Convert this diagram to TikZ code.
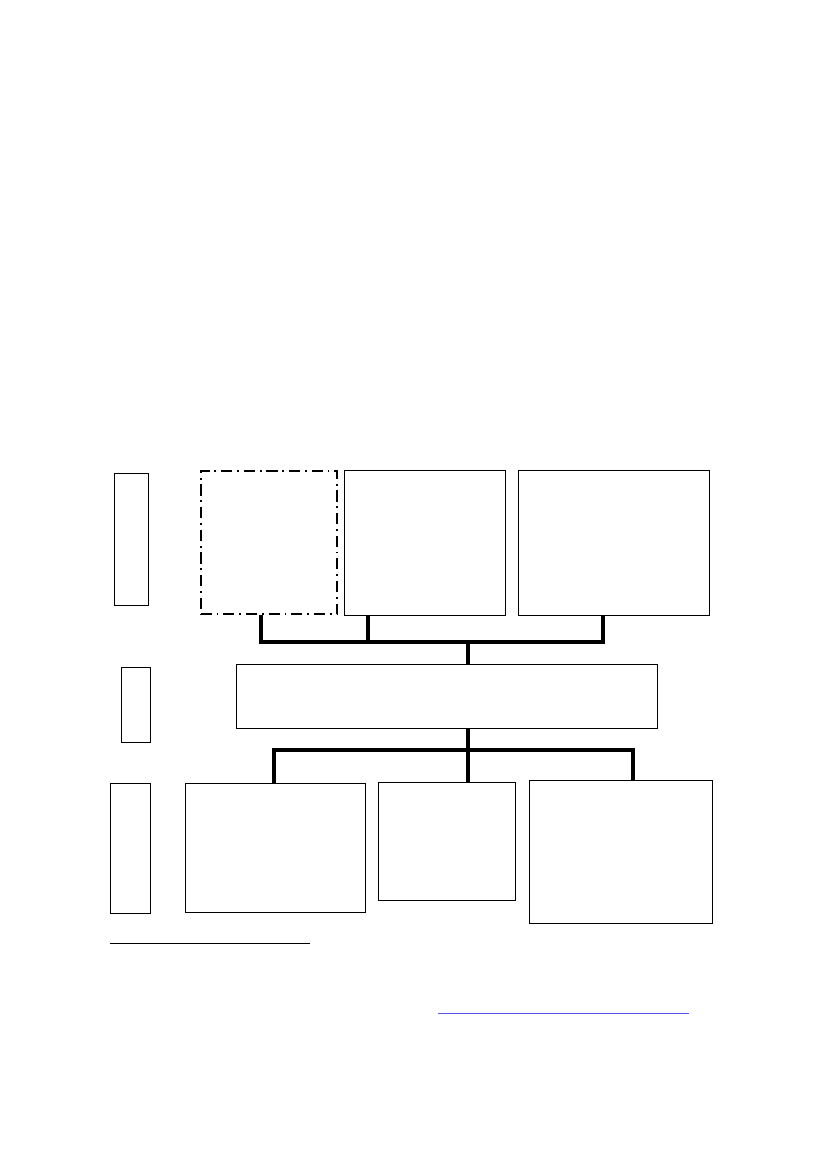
\documentclass[tikz,border=0pt]{standalone}
\usetikzlibrary{fit}
\definecolor{linkblue}{RGB}{85,85,230}
\begin{document}
\begin{tikzpicture}[x=0.7198pt,y=-0.7198pt,
  box/.style={draw=black,line width=0.7pt,inner sep=0pt,fill=white},
  dashbox/.style={draw=black,line width=1.5pt,inner sep=0pt,dash pattern=on 8pt off 3.5pt on 1.3pt off 3.5pt},
  conn/.style={draw=black,line width=2.6pt,line join=miter,line cap=butt},
  connshadow/.style={draw=black!20,line width=3pt,line join=miter}]
\useasboundingbox (0,0) rectangle (827,1169);
\fill[white] (0,0) rectangle (827,1169);
% top row
\node[box,fit={(114.3,473.3) (148.7,605.3)}] (s1) {};
\node[dashbox,fit={(200.7,470.7) (337.3,614)}] (dash) {};
\node[box,fit={(344.3,470.3) (505.3,615.3)}] (b2) {};
\node[box,fit={(518.3,470.3) (709.7,615.3)}] (b3) {};
% middle row
\node[box,fit={(121.3,667.3) (150.3,742.3)}] (s2) {};
\node[box,fit={(236.3,664.3) (657.3,728.3)}] (mid) {};
% bottom row
\node[box,fit={(110.3,783.3) (150.3,913.3)}] (s3) {};
\node[box,fit={(185.3,783.3) (365.7,912.3)}] (ba) {};
\node[box,fit={(378.3,782.3) (515.3,900.3)}] (bb) {};
\node[box,fit={(529.3,780.3) (712.7,923.3)}] (bc) {};
% bus coordinates
\coordinate (tl) at (261,642);
\coordinate (tm) at (367.7,642);
\coordinate (tr) at (603.3,642);
\coordinate (tc) at (467.7,642);
\coordinate (bl) at (274,750);
\coordinate (bm) at (467.7,750);
\coordinate (br) at (633.3,750);
% shadows
\begin{scope}[shift={(1.2,1.5)}]
\draw[connshadow] (dash.south -| tl) -- (tl) -- (tr) -- (b3.south -| tr);
\draw[connshadow] (ba.north -| bl) -- (bl) -- (br) -- (bc.north -| br);
\end{scope}
% connectors top
\draw[conn] (dash.south -| tl) -- (tl) -- (tr) -- (b3.south -| tr);
\draw[conn] (b2.south -| tm) -- (tm);
\draw[conn] (tc) -- (mid.north -| tc);
% connectors bottom
\draw[conn] (mid.south -| bm) -- (bb.north -| bm);
\draw[conn] (ba.north -| bl) -- (bl) -- (br) -- (bc.north -| br);
% footnote rule and link underline
\coordinate (fn1) at (110,943.3);
\coordinate (fn2) at (310,943.3);
\draw[black,line width=0.7pt] (fn1) -- (fn2);
\coordinate (ln1) at (437.7,1013.3);
\coordinate (ln2) at (689,1013.3);
\draw[linkblue,line width=0.9pt] (ln1) -- (ln2);
\end{tikzpicture}
\end{document}
